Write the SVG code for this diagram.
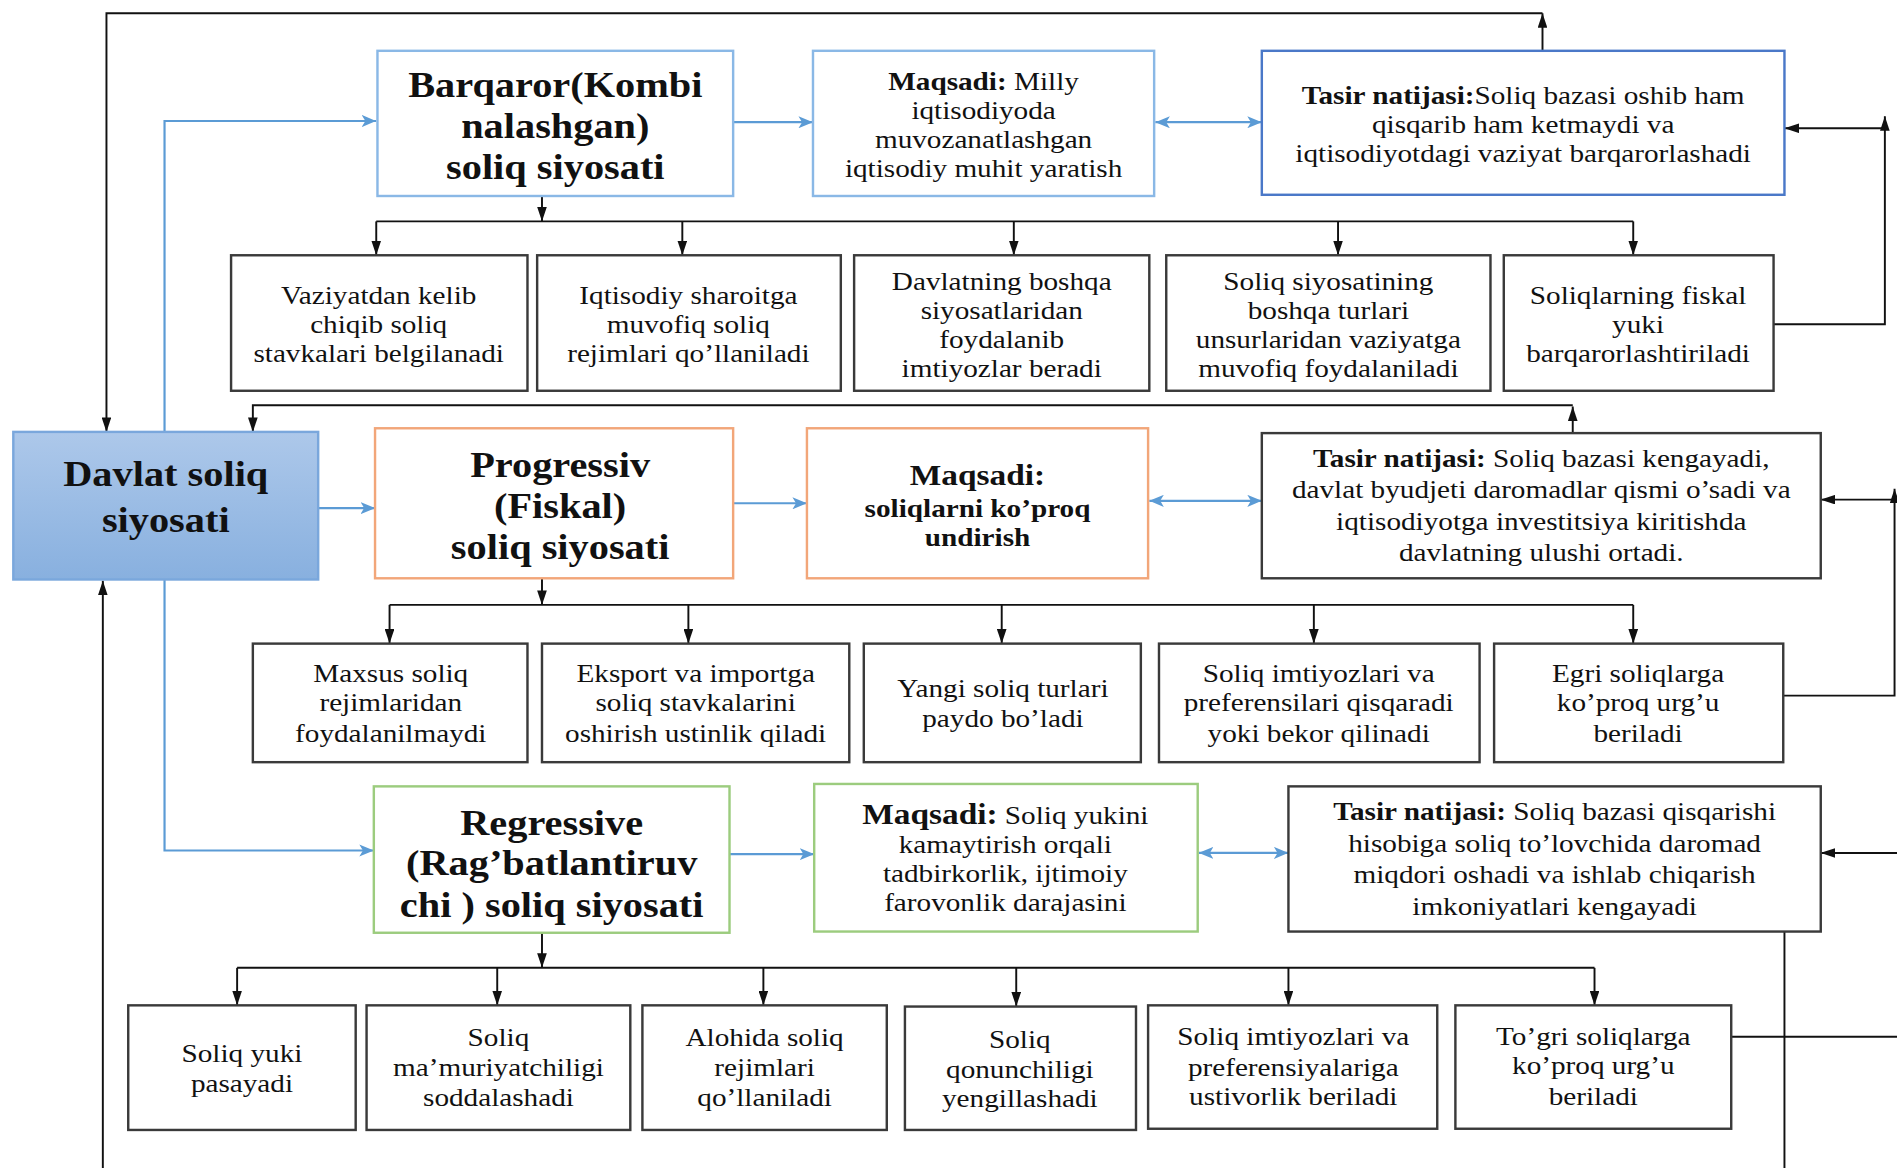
<svg xmlns="http://www.w3.org/2000/svg" width="1897" height="1168" viewBox="0 0 1897 1168">
<style>
text{font-family:"Liberation Serif","Times New Roman",serif;fill:#111;text-anchor:middle}
.t{font-size:21px}
.h{font-size:29px;font-weight:bold}
.b{font-weight:bold}
.box{fill:#fff;stroke:#3a3a3a;stroke-width:2}
.lb{fill:#fff;stroke:#8ab8e6;stroke-width:2}
.db{fill:#fff;stroke:#4a78c8;stroke-width:2}
.ob{fill:#fff;stroke:#f2a679;stroke-width:2}
.gb{fill:#fff;stroke:#9ccc7e;stroke-width:2}
.k{fill:none;stroke:#111;stroke-width:1.6}
.bl{fill:none;stroke:#5b9bd5;stroke-width:1.8}
</style>
<defs>
<linearGradient id="gr" x1="0" y1="0" x2="0" y2="1"><stop offset="0" stop-color="#adc8ea"/><stop offset="1" stop-color="#88b0df"/></linearGradient>
<marker id="ak" viewBox="0 0 12 8" refX="12" refY="4" markerWidth="12" markerHeight="8" markerUnits="userSpaceOnUse" orient="auto-start-reverse"><path d="M0,0 L12,4 L0,8 z" fill="#111"/></marker>
<marker id="ab" viewBox="0 0 12 10" refX="12" refY="5" markerWidth="12" markerHeight="10" markerUnits="userSpaceOnUse" orient="auto-start-reverse"><path d="M0,0 L12,5 L0,10 L3,5 z" fill="#5b9bd5"/></marker>
</defs>
<rect width="1897" height="1168" fill="#fff"/>
<g transform="scale(1.2098)">
<g id="connectors">
<path class="bl" d="M136,357 V100 H311" marker-end="url(#ab)"/>
<path class="bl" d="M136,479 V703 H309" marker-end="url(#ab)"/>
<path class="bl" d="M263,420 H310" marker-end="url(#ab)"/>
<path class="bl" d="M606,101 H672" marker-end="url(#ab)"/>
<path class="bl" d="M955,101 H1043" marker-start="url(#ab)" marker-end="url(#ab)"/>
<path class="bl" d="M606,416 H667" marker-end="url(#ab)"/>
<path class="bl" d="M950,414 H1043" marker-start="url(#ab)" marker-end="url(#ab)"/>
<path class="bl" d="M603,706 H673" marker-end="url(#ab)"/>
<path class="bl" d="M991,705 H1065" marker-start="url(#ab)" marker-end="url(#ab)"/>
<path class="k" d="M1275,42 V11" marker-end="url(#ak)"/>
<path class="k" d="M1275,11 H88 V357" marker-end="url(#ak)"/>
<path class="k" d="M1300,358 V336" marker-end="url(#ak)"/>
<path class="k" d="M1300,335 H209 V357" marker-end="url(#ak)"/>
<path class="k" d="M85,966 V480" marker-end="url(#ak)"/>
<path class="k" d="M1475,770 V966"/>
<path class="k" d="M1466,268 H1558 V96" marker-end="url(#ak)"/>
<path class="k" d="M1558,106 H1475" marker-end="url(#ak)"/>
<path class="k" d="M1474,575 H1566 V404" marker-end="url(#ak)"/>
<path class="k" d="M1566,413 H1505" marker-end="url(#ak)"/>
<path class="k" d="M1570,705 H1505" marker-end="url(#ak)"/>
<path class="k" d="M1431,857 H1570"/>
<path class="k" d="M448,162 V183" marker-end="url(#ak)"/>
<path class="k" d="M311,183 H1350"/>
<path class="k" d="M311,183 V211" marker-end="url(#ak)"/>
<path class="k" d="M564,183 V211" marker-end="url(#ak)"/>
<path class="k" d="M838,183 V211" marker-end="url(#ak)"/>
<path class="k" d="M1106,183 V211" marker-end="url(#ak)"/>
<path class="k" d="M1350,183 V211" marker-end="url(#ak)"/>
<path class="k" d="M448,478 V500" marker-end="url(#ak)"/>
<path class="k" d="M322,500 H1350"/>
<path class="k" d="M322,500 V532" marker-end="url(#ak)"/>
<path class="k" d="M569,500 V532" marker-end="url(#ak)"/>
<path class="k" d="M828,500 V532" marker-end="url(#ak)"/>
<path class="k" d="M1086,500 V532" marker-end="url(#ak)"/>
<path class="k" d="M1350,500 V532" marker-end="url(#ak)"/>
<path class="k" d="M448,771 V800" marker-end="url(#ak)"/>
<path class="k" d="M196,800 H1318"/>
<path class="k" d="M196,800 V831" marker-end="url(#ak)"/>
<path class="k" d="M411,800 V831" marker-end="url(#ak)"/>
<path class="k" d="M631,800 V831" marker-end="url(#ak)"/>
<path class="k" d="M840,800 V832" marker-end="url(#ak)"/>
<path class="k" d="M1065,800 V831" marker-end="url(#ak)"/>
<path class="k" d="M1318,800 V831" marker-end="url(#ak)"/>
</g>
<g id="davlat">
<rect x="11" y="357" width="252" height="122" fill="url(#gr)" stroke="#7aa7dc" stroke-width="2"/>
<g transform="translate(137,0) scale(1.15,1)">
<text class="h" x="0" y="402">Davlat soliq</text>
<text class="h" x="0" y="440">siyosati</text>
</g>
</g>
<g id="barqaror">
<rect class="lb" x="312" y="42" width="294" height="120"/>
<g transform="translate(459,0) scale(1.15,1)">
<text class="h" x="0" y="80">Barqaror(Kombi</text>
<text class="h" x="0" y="114">nalashgan)</text>
<text class="h" x="0" y="148">soliq siyosati</text>
</g>
</g>
<g id="maqsadi1">
<rect class="lb" x="672" y="42" width="282" height="120"/>
<g transform="translate(813,0) scale(1.15,1)">
<text class="t" x="0" y="74"><tspan class="b">Maqsadi:</tspan> Milly</text>
<text class="t" x="0" y="98">iqtisodiyoda</text>
<text class="t" x="0" y="122">muvozanatlashgan</text>
<text class="t" x="0" y="146">iqtisodiy muhit yaratish</text>
</g>
</g>
<g id="tasir1">
<rect class="db" x="1043" y="42" width="432" height="119"/>
<g transform="translate(1259,0) scale(1.15,1)">
<text class="t" x="0" y="86"><tspan class="b">Tasir natijasi:</tspan>Soliq bazasi oshib ham</text>
<text class="t" x="0" y="110">qisqarib ham ketmaydi  va</text>
<text class="t" x="0" y="134">iqtisodiyotdagi vaziyat barqarorlashadi</text>
</g>
</g>
<g id="b1">
<rect class="box" x="191" y="211" width="245" height="112"/>
<g transform="translate(313,0) scale(1.15,1)">
<text class="t" x="0" y="251">Vaziyatdan kelib</text>
<text class="t" x="0" y="275">chiqib soliq</text>
<text class="t" x="0" y="299">stavkalari belgilanadi</text>
</g>
</g>
<g id="b2">
<rect class="box" x="444" y="211" width="251" height="112"/>
<g transform="translate(569,0) scale(1.15,1)">
<text class="t" x="0" y="251">Iqtisodiy sharoitga</text>
<text class="t" x="0" y="275">muvofiq soliq</text>
<text class="t" x="0" y="299">rejimlari qo’llaniladi</text>
</g>
</g>
<g id="b3">
<rect class="box" x="706" y="211" width="244" height="112"/>
<g transform="translate(828,0) scale(1.15,1)">
<text class="t" x="0" y="240">Davlatning boshqa</text>
<text class="t" x="0" y="264">siyosatlaridan</text>
<text class="t" x="0" y="288">foydalanib</text>
<text class="t" x="0" y="312">imtiyozlar beradi</text>
</g>
</g>
<g id="b4">
<rect class="box" x="964" y="211" width="268" height="112"/>
<g transform="translate(1098,0) scale(1.15,1)">
<text class="t" x="0" y="240">Soliq siyosatining</text>
<text class="t" x="0" y="264">boshqa turlari</text>
<text class="t" x="0" y="288">unsurlaridan vaziyatga</text>
<text class="t" x="0" y="312">muvofiq foydalaniladi</text>
</g>
</g>
<g id="b5">
<rect class="box" x="1243" y="211" width="223" height="112"/>
<g transform="translate(1354,0) scale(1.15,1)">
<text class="t" x="0" y="251">Soliqlarning fiskal</text>
<text class="t" x="0" y="275">yuki</text>
<text class="t" x="0" y="299">barqarorlashtiriladi</text>
</g>
</g>
<g id="progressiv">
<rect class="ob" x="310" y="354" width="296" height="124"/>
<g transform="translate(463,0) scale(1.15,1)">
<text class="h" x="0" y="394">Progressiv</text>
<text class="h" x="0" y="428">(Fiskal)</text>
<text class="h" x="0" y="462">soliq siyosati</text>
</g>
</g>
<g id="maqsadi2">
<rect class="ob" x="667" y="354" width="282" height="124"/>
<g transform="translate(808,0) scale(1.15,1)">
<text class="b" x="0" y="401" style="font-size:24px">Maqsadi:</text>
<text class="t b" x="0" y="427">soliqlarni ko’proq</text>
<text class="t b" x="0" y="451">undirish</text>
</g>
</g>
<g id="tasir2">
<rect class="box" x="1043" y="358" width="462" height="120"/>
<g transform="translate(1274,0) scale(1.15,1)">
<text class="t" x="0" y="386"><tspan class="b">Tasir natijasi:</tspan> Soliq bazasi kengayadi,</text>
<text class="t" x="0" y="412">davlat byudjeti daromadlar qismi o’sadi va</text>
<text class="t" x="0" y="438">iqtisodiyotga investitsiya kiritishda</text>
<text class="t" x="0" y="464">davlatning ulushi ortadi.</text>
</g>
</g>
<g id="p1">
<rect class="box" x="209" y="532" width="227" height="98"/>
<g transform="translate(323,0) scale(1.15,1)">
<text class="t" x="0" y="564">Maxsus soliq</text>
<text class="t" x="0" y="588">rejimlaridan</text>
<text class="t" x="0" y="613">foydalanilmaydi</text>
</g>
</g>
<g id="p2">
<rect class="box" x="448" y="532" width="254" height="98"/>
<g transform="translate(575,0) scale(1.15,1)">
<text class="t" x="0" y="564">Eksport va importga</text>
<text class="t" x="0" y="588">soliq stavkalarini</text>
<text class="t" x="0" y="613">oshirish ustinlik qiladi</text>
</g>
</g>
<g id="p3">
<rect class="box" x="714" y="532" width="229" height="98"/>
<g transform="translate(829,0) scale(1.15,1)">
<text class="t" x="0" y="576">Yangi soliq turlari</text>
<text class="t" x="0" y="601">paydo bo’ladi</text>
</g>
</g>
<g id="p4">
<rect class="box" x="958" y="532" width="265" height="98"/>
<g transform="translate(1090,0) scale(1.15,1)">
<text class="t" x="0" y="564">Soliq imtiyozlari  va</text>
<text class="t" x="0" y="588">preferensilari qisqaradi</text>
<text class="t" x="0" y="613">yoki bekor qilinadi</text>
</g>
</g>
<g id="p5">
<rect class="box" x="1235" y="532" width="239" height="98"/>
<g transform="translate(1354,0) scale(1.15,1)">
<text class="t" x="0" y="564">Egri soliqlarga</text>
<text class="t" x="0" y="588">ko’proq urg’u</text>
<text class="t" x="0" y="613">beriladi</text>
</g>
</g>
<g id="regressive">
<rect class="gb" x="309" y="650" width="294" height="121"/>
<g transform="translate(456,0) scale(1.15,1)">
<text class="h" x="0" y="690">Regressive</text>
<text class="h" x="0" y="723">(Rag’batlantiruv</text>
<text class="h" x="0" y="758">chi ) soliq siyosati</text>
</g>
</g>
<g id="maqsadi3">
<rect class="gb" x="673" y="648" width="317" height="122"/>
<g transform="translate(831,0) scale(1.15,1)">
<text class="t" x="0" y="681"><tspan class="b" style="font-size:24px">Maqsadi:</tspan> Soliq yukini</text>
<text class="t" x="0" y="705">kamaytirish orqali</text>
<text class="t" x="0" y="729">tadbirkorlik, ijtimoiy</text>
<text class="t" x="0" y="753">farovonlik darajasini</text>
</g>
</g>
<g id="tasir3">
<rect class="box" x="1065" y="650" width="440" height="120"/>
<g transform="translate(1285,0) scale(1.15,1)">
<text class="t" x="0" y="678"><tspan class="b">Tasir natijasi:</tspan> Soliq bazasi qisqarishi</text>
<text class="t" x="0" y="704">hisobiga soliq to’lovchida daromad</text>
<text class="t" x="0" y="730">miqdori oshadi va ishlab chiqarish</text>
<text class="t" x="0" y="756">imkoniyatlari kengayadi</text>
</g>
</g>
<g id="r1">
<rect class="box" x="106" y="831" width="188" height="103"/>
<g transform="translate(200,0) scale(1.15,1)">
<text class="t" x="0" y="878">Soliq yuki</text>
<text class="t" x="0" y="903">pasayadi</text>
</g>
</g>
<g id="r2">
<rect class="box" x="303" y="831" width="218" height="103"/>
<g transform="translate(412,0) scale(1.15,1)">
<text class="t" x="0" y="865">Soliq</text>
<text class="t" x="0" y="889">ma’muriyatchiligi</text>
<text class="t" x="0" y="914">soddalashadi</text>
</g>
</g>
<g id="r3">
<rect class="box" x="531" y="831" width="202" height="103"/>
<g transform="translate(632,0) scale(1.15,1)">
<text class="t" x="0" y="865">Alohida soliq</text>
<text class="t" x="0" y="889">rejimlari</text>
<text class="t" x="0" y="914">qo’llaniladi</text>
</g>
</g>
<g id="r4">
<rect class="box" x="748" y="832" width="191" height="102"/>
<g transform="translate(843,0) scale(1.15,1)">
<text class="t" x="0" y="866">Soliq</text>
<text class="t" x="0" y="891">qonunchiligi</text>
<text class="t" x="0" y="915">yengillashadi</text>
</g>
</g>
<g id="r5">
<rect class="box" x="949" y="831" width="239" height="102"/>
<g transform="translate(1069,0) scale(1.15,1)">
<text class="t" x="0" y="864">Soliq imtiyozlari  va</text>
<text class="t" x="0" y="889">preferensiyalariga</text>
<text class="t" x="0" y="913">ustivorlik beriladi</text>
</g>
</g>
<g id="r6">
<rect class="box" x="1203" y="831" width="228" height="102"/>
<g transform="translate(1317,0) scale(1.15,1)">
<text class="t" x="0" y="864">To’gri soliqlarga</text>
<text class="t" x="0" y="888">ko’proq urg’u</text>
<text class="t" x="0" y="913">beriladi</text>
</g>
</g>
</g>
</svg>
